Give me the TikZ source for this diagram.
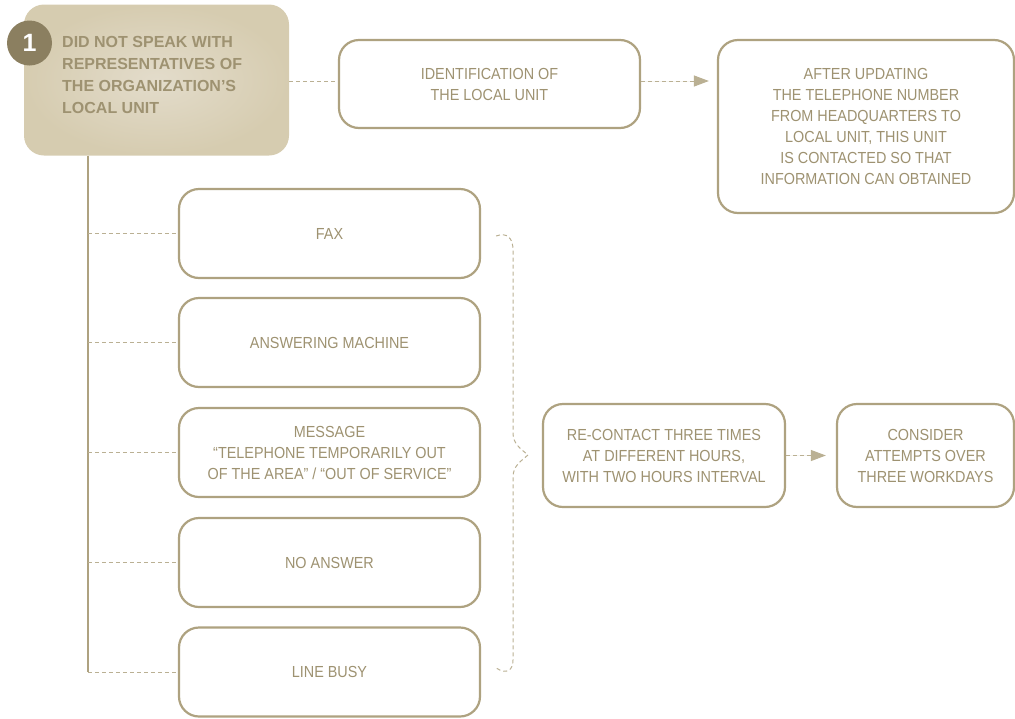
\documentclass[tikz,border=0pt]{standalone}
\usepackage{fontspec}
\setmainfont{Liberation Sans}
\newfontfamily\narrowfont{Liberation Sans}[FakeStretch=0.9]
\usetikzlibrary{arrows.meta}

\definecolor{beige}{RGB}{174,162,128}
\definecolor{beigetext}{RGB}{158,146,113}
\definecolor{beigedash}{RGB}{186,176,147}
\definecolor{beigedark}{RGB}{139,127,96}

\begin{document}
\begin{tikzpicture}[x=1pt,y=-1pt,
 stepbox/.style={shape=rectangle, rounded corners=20pt, draw=beige, line width=2.2pt,
   fill=white, text=beigetext, align=center, minimum width=301pt, minimum height=89pt,
   font=\narrowfont\fontsize{16}{21}\selectfont},
 mainbox/.style={shape=rectangle, rounded corners=20pt, shading=radial,
   inner color={rgb,255:red,227;green,220;blue,203}, outer color={rgb,255:red,214;green,204;blue,176}},
 maintext/.style={text=beigetext, align=left, font=\fontsize{16}{21.7}\selectfont\bfseries},
 bullet/.style={shape=circle, fill=beigedark, text=white, minimum size=45pt, inner sep=0pt,
   font=\fontsize{25}{25}\selectfont\bfseries},
 dashline/.style={draw=beigedash, line width=1pt, dash pattern=on 4pt off 3pt},
 dasharrow/.style={dashline, -{Triangle[length=15pt,width=11pt]}, fill=beigedash},
 trunkline/.style={draw=beige, line width=1.5pt}]

 \useasboundingbox (0,0) rectangle (1015,718);

 % starting point
 \node (lu) at (156.5,80) [mainbox, minimum width=265pt, minimum height=151pt] {};
 \node (lutext) at (62,75) [maintext, anchor=west, inner sep=0pt]
   {DID NOT SPEAK WITH\\REPRESENTATIVES OF\\THE ORGANIZATION’S\\LOCAL UNIT};
 \node (one) at (29.5,43) [bullet] {1};

 % top row
 \node (ident) at (489.5,84) [stepbox, minimum height=88pt] {IDENTIFICATION OF\\THE LOCAL UNIT};
 \node (update) at (866,126.5) [stepbox, minimum width=296pt, minimum height=173pt]
   {AFTER UPDATING\\THE TELEPHONE NUMBER\\FROM HEADQUARTERS TO\\LOCAL UNIT, THIS UNIT\\IS CONTACTED SO THAT\\INFORMATION CAN OBTAINED};
 \draw[dashline] ([yshift=3pt]ident.west -| lu.east) -- ([yshift=3pt]ident.west);
 \draw[dasharrow, shorten >=8pt] ([yshift=3pt]ident.east) -- ([yshift=3pt]ident.east -| update.west);

 % cases
 \node (fax) at (329.5,233.5) [stepbox] {FAX};
 \node (machine) at (329.5,342.5) [stepbox] {ANSWERING MACHINE};
 \node (message) at (329.5,452.5) [stepbox]
   {MESSAGE\\“TELEPHONE TEMPORARILY OUT\\OF THE AREA” / “OUT OF SERVICE”};
 \node (noanswer) at (329.5,562.5) [stepbox] {NO ANSWER};
 \node (busy) at (329.5,672) [stepbox] {LINE BUSY};

 \coordinate (trunk) at ([xshift=64pt]lu.south west);
 \draw[trunkline] (trunk) -- (trunk |- busy.west);
 \foreach \c in {fax,machine,message,noanswer,busy}
   \draw[dashline] (trunk |- \c.west) -- (\c.west);

 % brace
 \coordinate (tip) at (528,455);
 \draw[dashline] ([xshift=15pt,yshift=-2.5pt]fax.east) .. controls (507,232) and (513,238) .. (513,250)
   -- (513,433) .. controls (513,444) and (521,449) .. (tip)
   .. controls (521,461) and (513,466) .. (513,477)
   -- (513,660) .. controls (513,670) and (507,675) .. ([xshift=15pt,yshift=4pt]busy.east);

 % follow up
 \node (recontact) at (664,455.5) [stepbox, minimum width=242pt, minimum height=103pt]
   {RE-CONTACT THREE TIMES\\AT DIFFERENT HOURS,\\WITH TWO HOURS INTERVAL};
 \node (consider) at (925.5,455.5) [stepbox, minimum width=177pt, minimum height=103pt]
   {CONSIDER\\ATTEMPTS OVER\\THREE WORKDAYS};
 \draw[dasharrow, shorten >=10pt] (recontact) -- (consider);
\end{tikzpicture}
\end{document}
